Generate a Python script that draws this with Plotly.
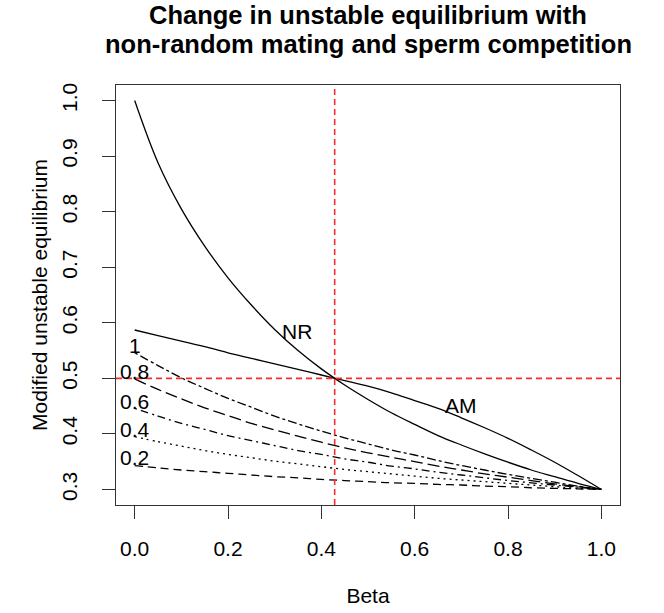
import plotly.graph_objects as go

beta = [0, 0.05, 0.1, 0.15, 0.2, 0.25, 0.3, 0.35, 0.4, 0.45, 0.5,
        0.55, 0.6, 0.65, 0.7, 0.75, 0.8, 0.85, 0.9, 0.95, 1.0]

nr = [1.0, 0.888, 0.805, 0.738, 0.681, 0.632, 0.588, 0.550, 0.517, 0.488, 0.462,
      0.438, 0.417, 0.397, 0.380, 0.364, 0.349, 0.335, 0.323, 0.311, 0.300]
am = [0.587, 0.577, 0.567, 0.557, 0.546, 0.536, 0.526, 0.516, 0.506, 0.496, 0.486,
      0.474, 0.460, 0.446, 0.429, 0.411, 0.392, 0.371, 0.349, 0.325, 0.300]

c10 = [0.546, 0.523, 0.501, 0.482, 0.464, 0.448, 0.432, 0.418, 0.405, 0.393, 0.382,
       0.371, 0.362, 0.352, 0.343, 0.335, 0.327, 0.320, 0.313, 0.306, 0.300]
c08 = [0.499, 0.480, 0.463, 0.447, 0.433, 0.419, 0.407, 0.396, 0.385, 0.375, 0.366,
       0.358, 0.350, 0.342, 0.335, 0.328, 0.322, 0.316, 0.310, 0.305, 0.300]
c06 = [0.446, 0.432, 0.419, 0.408, 0.397, 0.388, 0.379, 0.370, 0.363, 0.355, 0.349,
       0.342, 0.337, 0.331, 0.326, 0.321, 0.316, 0.312, 0.308, 0.304, 0.300]
c04 = [0.395, 0.386, 0.378, 0.370, 0.363, 0.357, 0.351, 0.346, 0.341, 0.336, 0.332,
       0.328, 0.324, 0.320, 0.317, 0.314, 0.311, 0.308, 0.305, 0.302, 0.300]
c02 = [0.343, 0.339, 0.335, 0.332, 0.329, 0.326, 0.323, 0.321, 0.318, 0.316, 0.314,
       0.312, 0.311, 0.309, 0.308, 0.306, 0.305, 0.303, 0.302, 0.301, 0.300]

beta_eq = 0.4286
p_eq = 0.5

x_ticks = [0.0, 0.2, 0.4, 0.6, 0.8, 1.0]
y_ticks = [0.3, 0.4, 0.5, 0.6, 0.7, 0.8, 0.9, 1.0]

curve_labels = ["1", "0.8", "0.6", "0.4", "0.2"]
curve_label_y = [0.559, 0.512, 0.459, 0.408, 0.358]

title_lines = ["Change in unstable equilibrium with", "non-random mating and sperm competition"]

FONT = "Liberation Sans, Arial, Helvetica, sans-serif"

fig = go.Figure()

line_w = 1.3
fig.add_trace(go.Scatter(x=beta, y=nr, mode="lines", line=dict(color="black", width=line_w, shape="spline"), name="NR"))
fig.add_trace(go.Scatter(x=beta, y=am, mode="lines", line=dict(color="black", width=line_w, shape="spline"), name="AM"))

styles = [
    (c10, "3px,3px,9px,3px"),
    (c08, "12px,5px"),
    (c06, "2px,4px,8px,4px"),
    (c04, "2px,4px"),
    (c02, "8px,5px"),
]
for (vals, dash), lab in zip(styles, curve_labels):
    fig.add_trace(go.Scatter(x=beta, y=vals, mode="lines",
                             line=dict(color="black", width=line_w, dash=dash, shape="spline"),
                             name=lab))

# reference lines
fig.add_trace(go.Scatter(x=[beta_eq, beta_eq], y=[0.272, 1.028], mode="lines",
                         line=dict(color="#ff2a2a", width=1.6, dash="6px,4px"), name="beta eq"))
fig.add_trace(go.Scatter(x=[-0.04, 1.04], y=[p_eq, p_eq], mode="lines",
                         line=dict(color="#ff2a2a", width=1.6, dash="6px,4px"), name="p eq"))

annots = []
for lab, yv in zip(curve_labels, curve_label_y):
    annots.append(dict(x=0.0, y=yv, text=lab, showarrow=False, xref="x", yref="y",
                       font=dict(family=FONT, size=21, color="black")))
annots.append(dict(x=0.348, y=0.585, text="NR", showarrow=False, xref="x", yref="y",
                   font=dict(family=FONT, size=21, color="black")))
annots.append(dict(x=0.70, y=0.451, text="AM", showarrow=False, xref="x", yref="y",
                   font=dict(family=FONT, size=21, color="black")))
for line_text, shift in zip(title_lines, [54, 25]):
    annots.append(dict(x=0.5, y=1, xref="paper", yref="paper", xanchor="center", yanchor="bottom",
                       yshift=shift, text=f"<b>{line_text}</b>", showarrow=False, align="center",
                       font=dict(family=FONT, size=25.5, color="black")))

fig.update_layout(
    width=664, height=613,
    margin=dict(l=116, r=44, t=85, b=108, autoexpand=False),
    paper_bgcolor="white", plot_bgcolor="white",
    showlegend=False,
    font=dict(family=FONT, size=21, color="black"),
    annotations=annots,
)
fig.update_xaxes(range=[-0.04, 1.04], tickvals=x_ticks, ticktext=[f"{v:.1f}" for v in x_ticks],
                 showgrid=False, zeroline=False, showline=True, linecolor="#333", linewidth=1.3,
                 mirror=True, ticks="outside", ticklen=13, tickwidth=1.3, tickcolor="#333",
                 ticklabelstandoff=12,
                 title=dict(text="Beta", standoff=28, font=dict(family=FONT, size=21)))
fig.update_yaxes(range=[0.272, 1.028], tickvals=y_ticks, ticktext=[f"{v:.1f}" for v in y_ticks],
                 tickangle=-90,
                 showgrid=False, zeroline=False, showline=True, linecolor="#333", linewidth=1.3,
                 mirror=True, ticks="outside", ticklen=13, tickwidth=1.3, tickcolor="#333",
                 ticklabelstandoff=16,
                 title=dict(text="Modified unstable equilibrium", standoff=5, font=dict(family=FONT, size=21)))

fig.write_html("out.html")
